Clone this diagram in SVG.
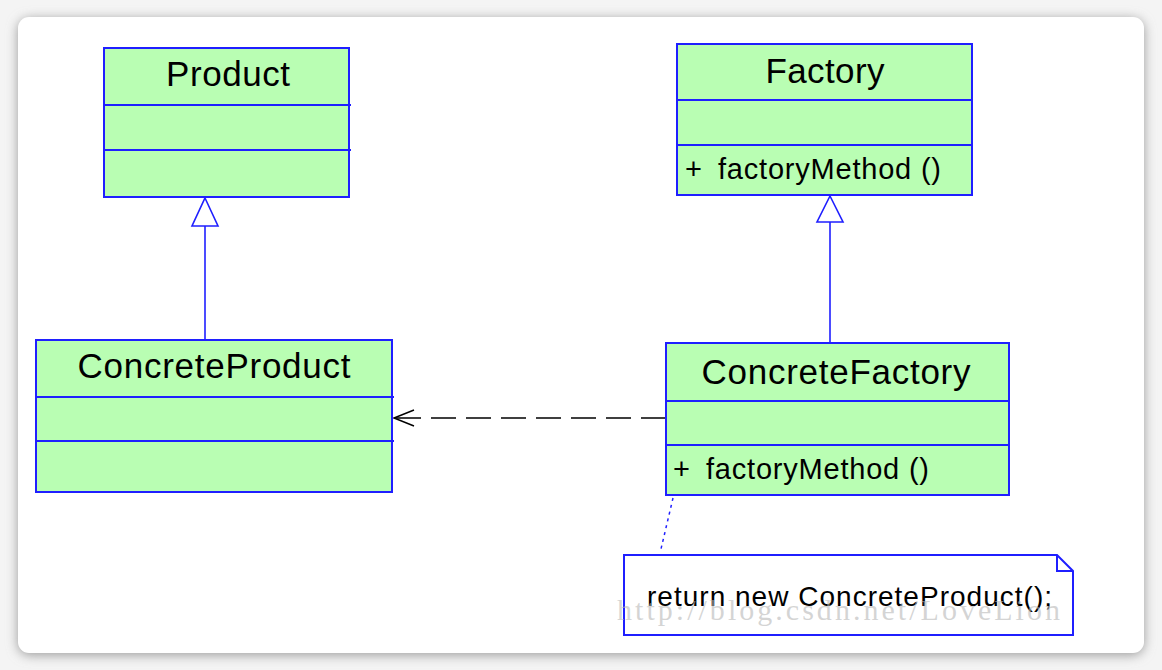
<svg xmlns="http://www.w3.org/2000/svg" width="1162" height="670" viewBox="0 0 1162 670">
<defs>
<filter id="sh" x="-5%" y="-5%" width="110%" height="110%">
<feGaussianBlur stdDeviation="6"/>
</filter>
</defs>
<style>
.box{fill:#b9feb3;stroke:#1f1fff;stroke-width:2}
.sep{stroke:#1f1fff;stroke-width:2}
.t{font-family:"Liberation Sans",Arial,sans-serif;fill:#000}
.title{font-size:35px;text-anchor:middle}
.m{font-size:29px}
.ln{stroke:#1f1fff;stroke-width:1.6;fill:none}
</style>
<rect width="1162" height="670" fill="#f4f4f4"/>
<rect x="18" y="19" width="1126" height="636" rx="12" fill="#9a9a9a" filter="url(#sh)"/>
<rect x="18" y="17" width="1126" height="636" rx="11" fill="#fff"/>

<g id="connectors">
<path class="ln" d="M205,226 L205,340"/>
<path d="M205,198 L218,226 L192,226 Z" fill="#fff" stroke="#1f1fff" stroke-width="1.6"/>
<path class="ln" d="M830,222 L830,343"/>
<path d="M830,196 L843,222 L817,222 Z" fill="#fff" stroke="#1f1fff" stroke-width="1.6"/>
<path d="M666,418 L395,418" stroke="#000" stroke-width="1.5" stroke-dasharray="25,10" fill="none"/>
<path d="M414,410 L394,418 L414,426" stroke="#000" stroke-width="1.5" fill="none"/>
<path d="M673,498 L661,549" stroke="#1f1fff" stroke-width="1.5" stroke-dasharray="3,4" fill="none"/>
</g>

<g id="product">
<rect class="box" x="104" y="48" width="245" height="149"/>
<line class="sep" x1="104" y1="105" x2="351" y2="105"/>
<line class="sep" x1="104" y1="150" x2="351" y2="150"/>
<text class="t title" x="228" y="86" textLength="124">Product</text>
</g>

<g id="factory">
<rect class="box" x="677" y="44" width="295" height="151"/>
<line class="sep" x1="677" y1="100" x2="972" y2="100"/>
<line class="sep" x1="677" y1="145" x2="972" y2="145"/>
<text class="t title" x="825" y="83" textLength="119">Factory</text>
<text class="t m" x="685" y="179">+</text>
<text class="t m" x="718" y="179" textLength="223">factoryMethod ()</text>
</g>

<g id="concreteProduct">
<rect class="box" x="36" y="340" width="356" height="152"/>
<line class="sep" x1="36" y1="397" x2="394" y2="397"/>
<line class="sep" x1="36" y1="441" x2="394" y2="441"/>
<text class="t title" x="214" y="378" textLength="273">ConcreteProduct</text>
</g>

<g id="concreteFactory">
<rect class="box" x="666" y="343" width="343" height="152"/>
<line class="sep" x1="666" y1="401" x2="1009" y2="401"/>
<line class="sep" x1="666" y1="445" x2="1009" y2="445"/>
<text class="t title" x="836" y="384" textLength="269">ConcreteFactory</text>
<text class="t m" x="673" y="479">+</text>
<text class="t m" x="706" y="479" textLength="223">factoryMethod ()</text>
</g>

<g id="note">
<path d="M624,555 L1057,555 L1073,571 L1073,635 L624,635 Z" fill="#fff" stroke="#1f1fff" stroke-width="2"/>
<path d="M1057,555 L1057,571 L1073,571" fill="none" stroke="#1f1fff" stroke-width="2"/>
<text class="t" x="647" y="606" font-size="28" textLength="405">return new ConcreteProduct();</text>
</g>

<text x="617" y="620" font-family="Liberation Serif,serif" font-size="30" fill="#b8b8b8" fill-opacity="0.6" textLength="443">http://blog.csdn.net/LoveLion</text>
</svg>
